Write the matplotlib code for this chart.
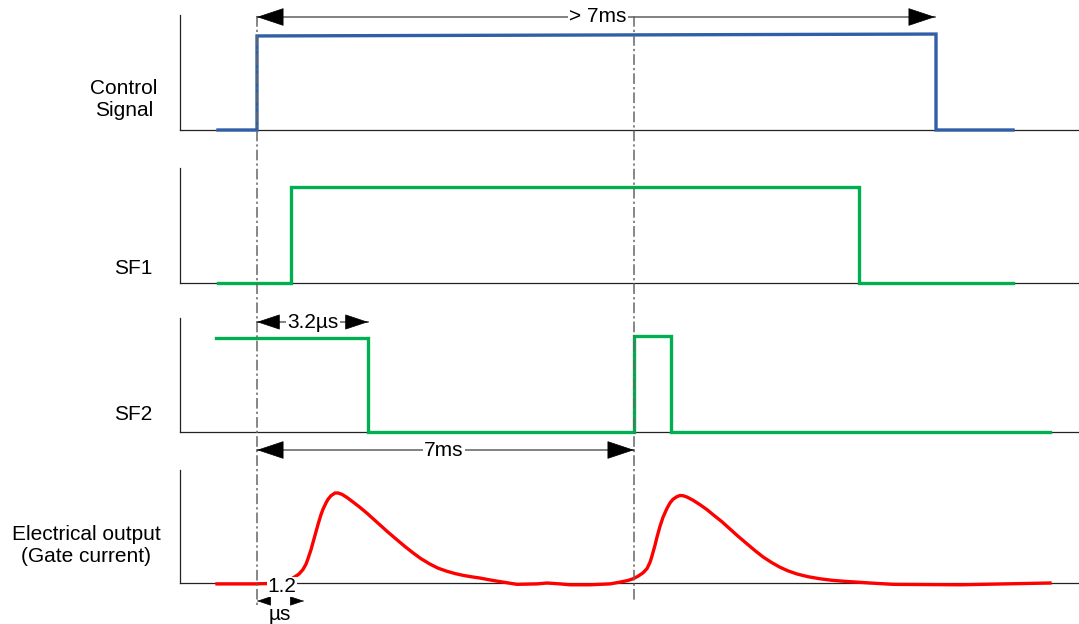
import numpy as np
import matplotlib.pyplot as plt

plt.rcParams['font.family'] = ['Liberation Sans', 'DejaVu Sans']

# panel layout (drawing units, y grows downward)
panel_names = ['Control\nSignal', 'SF1', 'SF2', 'Electrical output\n(Gate current)']
panel_base = [130, 283, 432, 583]
panel_top = [15, 168, 318, 470]
panel_amp = [95, 96, 95, 90]
label_x = [124, 133, 133, 86]
label_y = [99, 268, 415, 545]

# signals: time positions and normalised levels
ctrl_t = [218, 257, 257, 936, 936, 1013]
ctrl_v = [0, 0, 0.99, 1.01, 0, 0]
sf1_t = [218, 291, 291, 859, 859, 1013]
sf1_v = [0, 0, 1, 1, 0, 0]
sf2_t = [216, 368, 368, 634, 634, 671, 671, 1050]
sf2_v = [0.99, 0.99, 0, 0, 1.01, 1.01, 0, 0]
gate_t = [217, 255, 285, 295, 299, 303, 306, 308, 311, 313, 316, 318, 321, 323, 326,
          328, 331, 335, 338, 342, 347, 353, 360, 367, 373, 380, 388, 397, 405, 413,
          421, 430, 438, 447, 455, 463, 472, 480, 492, 503, 517, 537, 547, 560, 570,
          590, 610, 620, 628, 633, 638, 643, 647, 650, 652, 655, 657, 660, 663, 667,
          670, 673, 677, 680, 683, 687, 693, 700, 707, 713, 722, 730, 738, 747, 755,
          763, 772, 780, 788, 797, 808, 820, 832, 843, 870, 893, 960, 1050]
gate_v = [-0.01, -0.01, 0.0, 0.07, 0.10, 0.15, 0.21, 0.27, 0.37, 0.45, 0.57, 0.65, 0.76, 0.82,
          0.89, 0.93, 0.97, 1.0, 1.0, 0.985, 0.95, 0.9, 0.84, 0.775, 0.715, 0.645, 0.565, 0.48,
          0.405, 0.335, 0.27, 0.21, 0.165, 0.13, 0.105, 0.085, 0.068, 0.055, 0.03, 0.01,
          -0.015, -0.01, 0.0, -0.01, -0.02, -0.02, -0.01, 0.01, 0.028, 0.047, 0.075, 0.113,
          0.16, 0.23, 0.3, 0.42, 0.51, 0.63, 0.73, 0.83, 0.89, 0.93, 0.96, 0.972, 0.97, 0.955,
          0.92, 0.87, 0.815, 0.76, 0.68, 0.6, 0.52, 0.435, 0.36, 0.29, 0.225, 0.175, 0.135,
          0.1, 0.07, 0.047, 0.03, 0.02, 0.0, -0.015, -0.02, 0.0]

signals = [(ctrl_t, ctrl_v, '#2F5FA7'), (sf1_t, sf1_v, '#00B050'),
           (sf2_t, sf2_v, '#00B050'), (gate_t, gate_v, '#FF0000')]

# timing markers
mark_x = [257, 634]
mark_y_end = [607, 600]

fig = plt.figure(figsize=(10.79, 6.24), dpi=100)
ax = fig.add_axes([0, 0, 1, 1])
ax.set_xlim(0, 1079)
ax.set_ylim(624, 0)
ax.axis('off')

FS = 15

for i in range(4):
    ax.plot([180, 180], [panel_top[i], panel_base[i]], color='#222222', lw=0.9)
    ax.plot([180, 1079], [panel_base[i], panel_base[i]], color='#222222', lw=0.9)
    ax.text(label_x[i], label_y[i], panel_names[i], ha='center', va='center',
            fontsize=FS, linespacing=1.2)
    t, v, c = signals[i]
    y = panel_base[i] - panel_amp[i] * np.array(v)
    ax.plot(t, y, color=c, lw=2.4, solid_joinstyle='miter', zorder=3)

for mx, my in zip(mark_x, mark_y_end):
    ax.plot([mx, mx], [16, my], color='#666666', lw=1.1,
            linestyle=(0, (7, 2, 1.5, 2)), zorder=4)


def dim_arrow(x0, x1, y, text, tx, size=20):
    ax.plot([x0, x1], [y, y], color='#777777', lw=1.3, zorder=2)
    style = '-|>,head_length=0.9,head_width=0.3'
    ax.annotate('', xy=(x0, y), xytext=(x0 + 1, y),
                arrowprops=dict(arrowstyle=style, color='black', lw=0.5,
                                mutation_scale=size, shrinkA=0, shrinkB=0), zorder=5)
    ax.annotate('', xy=(x1, y), xytext=(x1 - 1, y),
                arrowprops=dict(arrowstyle=style, color='black', lw=0.5,
                                mutation_scale=size, shrinkA=0, shrinkB=0), zorder=5)
    ax.text(tx, y, text, ha='center', va='center', fontsize=FS, zorder=6,
            bbox=dict(facecolor='white', edgecolor='none', pad=1))


dim_arrow(257, 935, 17, '> 7ms', 598)
dim_arrow(257, 368, 322, '3.2µs', 313, size=17)
dim_arrow(257, 634, 450, '7ms', 444)

# 1.2 µs marker
for x_tip, x_from in [(257, 258), (304, 303)]:
    ax.annotate('', xy=(x_tip, 601), xytext=(x_from, 601),
                arrowprops=dict(arrowstyle='-|>,head_length=0.9,head_width=0.3',
                                color='black', lw=0.5, mutation_scale=10,
                                shrinkA=0, shrinkB=0), zorder=5)
ax.text(282, 587, '1.2', ha='center', va='center', fontsize=FS, zorder=6,
        bbox=dict(facecolor='white', edgecolor='none', pad=0.3))
ax.text(280, 614, 'µs', ha='center', va='center', fontsize=FS, zorder=6)

fig.savefig('out.png', dpi=100)
